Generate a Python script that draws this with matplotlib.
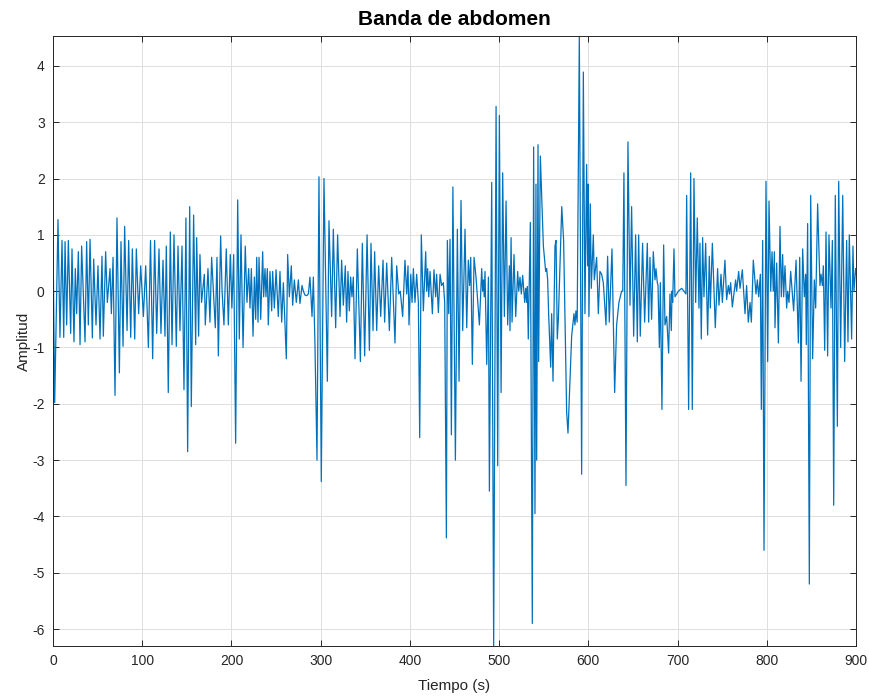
import matplotlib
matplotlib.use('Agg')
import matplotlib.pyplot as plt

# Extremos de la señal (tiempo en s, amplitud)
tiempo = [
    0, 1.9, 5.6, 7.8, 10.1, 12, 13.5, 15.3, 17.2, 19.8, 21.3, 23.5, 25, 26.5, 28.4,
    30.3, 32.1, 35.9, 37.7, 39.6, 41.5, 44.1, 45.6, 48.2, 50.4, 52.7, 54.9, 56.4, 59,
    60.9, 63.9, 65.4, 67.3, 69.5, 71.7, 74.4, 76.2, 78.5, 80.3, 83, 84.8, 87.1, 88.9,
    91.6, 93.4, 96, 98.3, 101.3, 103.9, 106.9, 109.3, 111.7,
    113.9, 116.2, 118.8, 121, 123.3, 125.5, 127, 129.2, 131.5, 133.4, 135.6, 138.2,
    140.1, 142.3, 144.6, 146.8, 149, 150.9, 153.2, 155, 157.6, 159.9, 161, 163.2,
    164.7, 166.5, 169.6, 170.7, 173.7, 175.9, 177.8, 181.9, 183.8, 185.3, 187.9,
    189.5, 191.6, 194.2, 196.5, 198.7, 200.5, 202.5, 204.7, 207, 208.8, 210.7, 213,
    215.5, 217.4, 219.3, 220.8, 222.3, 224.2,
    225.7, 227.2, 228.3, 229.8, 230.9, 232.8, 235, 236.1, 237.6, 238.7, 240.2, 241.3,
    243.2, 245.1, 246.2, 248.1, 250, 252.5, 254.4, 256.3, 258.2, 261.5, 263, 264.9,
    267.1, 268.6, 270.5, 272.7, 275, 276.8, 279.1, 280.6, 282.4, 284.3, 286.2, 288,
    290.3, 291.8, 293.6, 295.9, 298.1, 300.7, 303.7, 307.5, 309.3, 312.3, 314.2,
    316.8, 319, 321.7, 323.5, 325.4, 327.6, 329.1, 330.6, 332.1, 333.6, 335.1, 336.6,
    338.5, 341.1, 344.5, 346.7, 349.3, 352, 354.6, 356.4, 358.7, 360.5, 362.8, 365,
    367.3, 369.9, 371.7, 374, 377, 379.6, 383.3, 385.2, 387.5, 389.2, 391.9, 394.5,
    396.4, 397.9, 399, 401, 402.4, 403.9, 405.7, 407.6, 409.5, 411, 412.8, 415.1,
    417.7, 418.8, 419.9, 421.1, 422.6, 425.2, 427, 428.9, 430, 431.9, 433.8, 435.6,
    437.5, 439, 440.9, 442, 443.5, 445, 446.5, 448.2, 451, 453.2, 455.1, 457.3, 459.2,
    461.8, 463.7, 465.5, 467, 468.2, 470, 471.9, 474.1, 477.9, 480.5, 481.5, 482.4,
    483.3, 484.2, 486.1, 488, 489.1, 491.7, 493.9, 496.6, 498.4, 500.3, 502.2, 504,
    505.9, 507.8, 509.6, 511.5, 512.2, 513.4, 514.5, 516.7, 518.6, 520.8, 522, 523.4,
    524.9, 526.4, 528.7, 529.8, 530.9, 531.7, 532.7, 535, 537.2, 538.7, 540.2, 541.3,
    542.1, 543.6, 544.3, 546.2, 549.6, 552.2, 553.3, 554.4, 555.5, 557.8, 558.9,
    560.4, 562.6, 563.8, 565.2, 566.4, 570.2, 572.3, 575.7, 577.2, 581.3, 583.9, 585,
    586.1, 587.5, 589.9, 592.5, 594.4, 596.2, 598.1, 599.2, 600, 600.7, 602.2, 603.3,
    605.6, 606.7, 609.3, 611.2, 613, 614.9, 616.8, 619.8, 621.6, 623.5, 626.5, 629.5,
    631.7, 634.3, 637.3, 638.6, 639.9, 642.2, 644.4, 646.7, 648.5, 650.8, 653, 654.9,
    656.4, 658.2, 660.8, 663.1, 666.1, 667.6, 669.1, 670.9, 672.8, 674.7, 675.8,
    677.3, 678.1, 679.6, 680.7, 682.5, 684.4, 685.9, 687.8, 690, 691.5, 693, 693.8,
    694.5, 696, 697.1, 700.9, 704.6, 707.2, 709.4, 710.2, 712.4, 714.7, 716.5, 718.4,
    720.3, 722.1, 724, 725.1, 726.6, 728.1, 729.6, 731.5, 733.7, 735.6, 736.7, 739,
    742.3, 744.9, 746.4, 748.7, 750.2, 753.1, 755, 756.9, 758.2, 759.5, 761.4, 765.1,
    766.2, 768.5, 770, 772.6, 775.6, 777.4, 779.3, 781.2, 782.7, 784.9,
    787.9, 789.4, 790.9, 792.8, 793.9, 795.4, 796.9, 799.1, 801, 802.5, 804.4, 805.9,
    807.3, 808.5, 809.2, 811.1, 813, 814.8, 816.3, 817.8, 818.9, 820.4, 822.3, 823.4,
    824.9, 826.8, 830.1, 832.8, 835.4, 836.9, 838.4, 840.2, 842.1, 843.6, 844.3,
    845.8, 847.7, 849.2, 851.4, 853.3, 854.8, 857, 859.6, 860.8, 862.3, 863.4, 864.9,
    866.4, 868.2, 869.7, 872, 873.5, 875, 876.8, 879.1, 880.6, 882.8, 885.1, 887.3,
    889.5, 891, 892.5, 895.1, 896.6, 897.7, 899.6, 900,
]
amplitud = [
    0.95, -1.98, 1.27, -0.82, 0.9, -0.82, 0.88, -0.6, 0.9, -0.75, 0.75, -0.9, 0.4, -0.4, 0.7,
    -0.95, 0.8, -0.9, 0.88, -0.6, 0.92, -0.83, 0.57, -0.6, 0.45, -0.85, 0.62, -0.8, 0.7,
    -0.2, 0.4, -0.4, 0.6, -1.85, 1.3, -1.45, 0.88, -0.98, 1.15, -0.7, 0.9, -0.82, 0.75,
    -0.85, 0.75, -0.4, 0.45, -0.45, 0.45, -1.0, 0.9, -1.2,
    0.9, -0.75, 0.75, -0.75, 0.55, -0.8, 0.8, -1.8, 1.05, -0.95, 1.0, -0.98,
    0.8, -0.7, 0.8, -1.75, 1.3, -2.85, 1.5, -2.05, 1.35, -0.95, 0.95, -0.8,
    0.65, -0.2, 0.3, -0.6, 0.4, -0.55, 0.6, -0.65, 0.6, -1.15, 0.98,
    0.0, -0.6, 0.75, -0.6, 0.65, -0.3, 0.65, -2.7, 1.62, -0.85, 1.0, -1.0,
    0.8, -0.2, 0.4, -0.3, 0.4, -0.8,
    0.25, -0.5, 0.6, -0.55, 0.6, -0.5, 0.7, -0.1, 0.4, -0.1, 0.4, -0.6,
    0.35, -0.35, 0.35, -0.3, 0.38, -0.45, 0.35, -0.55, 0.15, -1.2, 0.65, -0.1,
    0.45, -0.25, 0.2, -0.2, 0.2, -0.22, 0.1, 0.0, -0.07, -0.08, -0.05, 0.25,
    -0.45, 0.25, -0.95, -3.0, 2.03, -3.38, 2.0, -1.6, 1.25, -0.45, 1.1,
    -0.65, 1.0, -0.45, 0.55, -0.25, 0.45, -0.55, 0.35, -0.35, 0.25, -0.1, 0.25,
    -1.2, 0.75, -1.25, 0.85, -1.15, 1.0, -1.05, 0.85, -0.7, 0.7, -0.7, 0.45,
    -0.45, 0.55, -0.55, 0.5, -0.7, 0.6, -0.92, 0.45, -0.05, 0.0, -0.45, 0.55,
    -0.05, 0.45, -0.6, 0.3, -0.2, 0.4, -0.2, 0.3, -0.2, -2.6, 1.0, -0.35,
    0.7, 0.0, 0.4, -0.1, 0.35, -0.4, 0.38, -0.1, 0.3, -0.38, 0.3, 0.1,
    0.15, -0.2, -4.38, 0.9, -0.4, 0.92, -2.55, 1.85, -3.0, 1.1, -1.6, 1.61, -0.7,
    1.1, -0.65, 0.55, 0.1, 0.6, -1.3, 0.6, 0.25, -0.6, 0.4, 0.0, 0.2,
    -0.1, 0.35, -1.3, 0.25, -3.55, 1.93, -6.3, 3.28, -3.1, 3.12, -1.8, 2.1,
    -0.45, 1.6, -0.6, 0.45, -0.7, 0.95, -0.55, 0.65, -0.45, 0.35, 0.0, 0.25,
    -0.05, 0.28, -0.2, 0.05, -0.2, 0.08, -0.85, 1.22, -5.9, 2.56, -3.95, 1.9,
    -3.0, 2.6, -1.25, 2.4, 0.8, 0.35, 0.4, 0.2, -0.4, -1.35, -0.4,
    -1.6, 0.8, 0.9, -0.85, -0.5, 1.5, 0.9, -2.15, -2.52, -0.8, -0.4, -0.6,
    -0.35, -0.55, 4.53, -3.25, 3.89, -0.4, 2.25, 0.45, 1.9, -0.45, 1.55, 0.05,
    1.0, 0.2, 0.6, -0.4, 0.35, 0.3, 0.15, -0.6, 0.62, -0.55, 0.75, -1.8,
    -0.6, -0.2, 0.0, 0.0, 2.1, -3.45, 2.65, -0.25, 1.5, -0.8, 1.0, -0.9,
    1.0, -0.8, 0.85, -0.55, 0.85, -0.55, 0.6, -0.5, 0.7, 0.2, 0.4,
    0.15, 0.1, -1.0, 0.15, -2.1, 0.82, -0.6, -0.45, -1.1, -0.05, -0.7, 0.0,
    -0.2, 0.75, -0.1, 0.0, 0.05, 0.0, -0.05, 1.7, -2.1, 2.1, -2.1, 2.0,
    -0.2, 1.3, -0.3, 0.85, -0.85, 0.95, -0.1, 0.85, -0.78, 0.62, -0.3, 0.85,
    -0.65, 0.4, -0.25, 0.3, -0.2, 0.55, -0.15, 0.1, -0.05, 0.15, -0.28, 0.2,
    0.0, 0.35, 0.05, 0.38, -0.4, 0.1, -0.55, -0.2, -0.55, 0.55,
    -0.05, 0.2, -0.1, 0.3, -2.1, 0.9, -4.6, 1.95, -1.25, 1.6, 0.0, 0.7,
    0.0, 0.7, -0.65, 0.5, -0.92, 1.15, -0.1, 0.65, -0.1, 0.45, -0.3, 0.0,
    -0.2, 0.35, -0.35, 0.55, -0.92, 0.6, -1.6, 0.75, -0.1, 0.3, -0.95,
    1.2, -5.2, 1.7, -1.2, 0.2, -0.3, 1.55, 0.1, 0.3, 0.1, 0.45, -1.05,
    1.05, -1.15, 1.0, -0.3, 0.9, -3.8, 1.7, -2.4, 1.95, -1.0, 1.7, -1.25,
    0.9, -0.9, 1.0, -0.85, 0.8, 0.0, 0.4, 0.3,
]
xticks = [0, 100, 200, 300, 400, 500, 600, 700, 800, 900]
yticks = [-6, -5, -4, -3, -2, -1, 0, 1, 2, 3, 4]

plt.rcParams['font.family'] = ['Liberation Sans', 'DejaVu Sans']
plt.rcParams['axes.unicode_minus'] = False

fig = plt.figure(figsize=(8.69, 6.96), dpi=100)
ax = fig.add_axes([53 / 869, 1 - 646 / 696, 803 / 869, 610 / 696])

ax.plot(tiempo, amplitud, color='#0072BD', linewidth=0.9)

ax.set_xlim(0, 900)
ax.set_ylim(min(amplitud), max(amplitud))
ax.set_xticks(xticks)
ax.set_yticks(yticks)

ax.grid(True, color='#dedede', linewidth=0.7)
ax.set_axisbelow(True)
for s in ax.spines.values():
    s.set_color('#262626')
    s.set_linewidth(0.7)
ax.tick_params(direction='in', length=4, width=0.7, colors='#262626',
               labelsize=10, top=True, right=True, pad=6)

ax.set_title('Banda de abdomen', fontsize=15, fontweight='bold', pad=8)
ax.set_xlabel('Tiempo (s)', fontsize=11, color='#262626', labelpad=8)
ax.set_ylabel('Amplitud', fontsize=11, color='#262626', labelpad=1)

fig.savefig('out.png', dpi=100)
